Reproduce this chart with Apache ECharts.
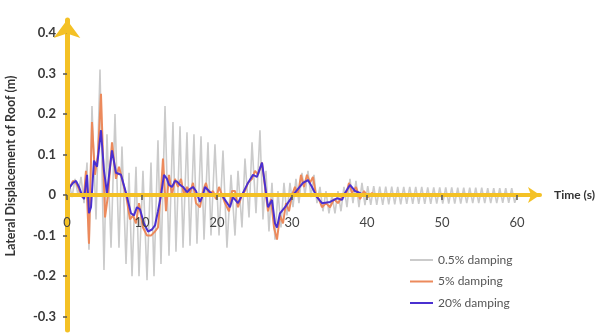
<!DOCTYPE html>
<html>
<head>
<meta charset="utf-8">
<script src="https://cdn.jsdelivr.net/npm/echarts@6/dist/echarts.min.js"></script>
<style>
  html, body { margin: 0; padding: 0; background: #fff; }
  #chart { width: 600px; height: 335px; }
</style>
</head>
<body>
<div id="chart"></div>
<script>
// tick labels
const TIME_TICKS = [0, 10, 20, 30, 40, 50, 60]
const DISP_TICKS = [-0.3, -0.2, -0.1, 0, 0.1, 0.2, 0.3, 0.4]
const SERIES_NAMES = ['0.5% damping', '5% damping', '20% damping']

// [time (s), roof displacement (m)] -- 0.5% damping, peaks and troughs
const damping05 = [
  [0, 0], [0.4, 0.02], [0.67, -0.005], [1.07, 0.04], [1.47, 0], [1.87, 0.045], [2.27, -0.02], [2.67, 0.08],
  [2.93, -0.135], [3.33, 0.22], [3.87, -0.06], [4.4, 0.31], [4.93, -0.185], [5.33, 0.15], [5.87, -0.13],
  [6.4, 0.2], [6.93, -0.13], [7.33, 0.12], [7.87, -0.17], [8.27, 0.055], [8.67, -0.2], [9.2, 0.07], [9.6, -0.2],
  [10.13, 0.06], [10.67, -0.21], [11.2, 0.08], [11.6, -0.2], [12.13, 0.135], [12.53, -0.17], [13.07, 0.22],
  [13.6, -0.15], [14.13, 0.18], [14.53, -0.14], [15.07, 0.17], [15.47, -0.13], [16.0, 0.155], [16.4, -0.125],
  [16.93, 0.15], [17.33, -0.12], [17.87, 0.145], [18.27, -0.11], [18.8, 0.13], [19.2, -0.1], [19.73, 0.125],
  [20.27, -0.1], [20.8, 0.11], [21.33, -0.13], [21.87, 0.05], [22.4, -0.1], [22.8, 0.06], [23.33, -0.08],
  [23.73, 0.09], [24.27, -0.055], [24.67, 0.13], [25.2, -0.045], [25.73, 0.16], [26.13, -0.06], [26.53, 0.06],
  [26.93, -0.09], [27.33, 0.03], [27.73, -0.11], [28.13, 0.01], [28.53, -0.08], [28.93, 0.03], [29.33, -0.05],
  [29.73, 0.03], [30.13, -0.03], [30.53, 0.04], [30.93, -0.02], [31.33, 0.055], [31.73, 0], [32.13, 0.06],
  [32.53, -0.005], [32.93, 0.05], [33.33, -0.02], [33.73, 0.02], [34.13, -0.04], [34.53, 0.01], [34.93, -0.045],
  [35.33, 0], [35.73, -0.045], [36.13, 0.01], [36.53, -0.04], [36.93, 0.02], [37.33, -0.03], [37.73, 0.04],
  [38.13, -0.02], [38.53, 0.035], [38.93, -0.03], [39.33, 0.03], [39.73, -0.025],
  [40.1, 0.022], [40.5, -0.024], [40.9, 0.022], [41.3, -0.024], [41.7, 0.021], [42.1, -0.024], [42.5, 0.021],
  [42.9, -0.023], [43.3, 0.021], [43.7, -0.023], [44.1, 0.02], [44.5, -0.023], [44.9, 0.02], [45.3, -0.022],
  [45.7, 0.02], [46.1, -0.022], [46.5, 0.02], [46.9, -0.022], [47.3, 0.02], [47.7, -0.022], [48.1, 0.019],
  [48.5, -0.022], [48.9, 0.019], [49.3, -0.021], [49.7, 0.019], [50.1, -0.021], [50.5, 0.019], [50.9, -0.021],
  [51.3, 0.019], [51.7, -0.021], [52.1, 0.018], [52.5, -0.021], [52.9, 0.018], [53.3, -0.02], [53.7, 0.018],
  [54.1, -0.02], [54.5, 0.018], [54.9, -0.02], [55.3, 0.018], [55.7, -0.02], [56.1, 0.017], [56.5, -0.02],
  [56.9, 0.017], [57.3, -0.02], [57.7, 0.017], [58.1, -0.019], [58.5, 0.017], [58.9, -0.019], [59.3, 0.017],
  [59.7, -0.019], [60.0, 0],
]

// 5% damping
const damping5 = [
  [0, 0], [0.4, 0.02], [0.8, 0.035], [1.2, 0.03], [1.6, 0.015], [2.0, -0.005], [2.27, 0], [2.53, 0.06],
  [2.93, -0.12], [3.33, 0.18], [3.73, 0.05], [4.13, 0.1], [4.53, 0.25], [5.07, -0.055], [5.47, 0], [6.0, 0.13],
  [6.53, 0.04], [6.93, 0.07], [7.33, 0.04], [7.87, 0], [8.4, -0.06], [8.8, -0.05], [9.2, -0.07], [9.6, -0.02],
  [10.13, -0.08], [10.67, -0.1], [11.2, -0.1], [11.73, -0.09], [12.13, -0.08], [12.53, 0.01], [12.8, 0.09],
  [13.2, -0.04], [13.6, 0.05], [14.0, 0], [14.4, 0.04], [14.8, 0.02], [15.2, 0.04], [15.6, 0], [16.0, 0.02],
  [16.4, 0.005], [16.8, 0.03], [17.2, -0.02], [17.73, -0.03], [18.13, 0.01], [18.53, 0.03], [18.93, 0],
  [19.47, 0.01], [19.87, -0.01], [20.27, 0.02], [20.67, 0], [21.07, -0.02], [21.6, -0.04], [22.0, 0.01],
  [22.4, 0.01], [22.8, -0.03], [23.33, 0], [23.73, 0.01], [24.13, 0.03], [24.67, 0.04], [25.07, 0.06],
  [25.47, 0.05], [26.0, 0.08], [26.4, 0.02], [26.8, -0.04], [27.2, -0.01], [27.6, -0.08], [28.0, -0.11],
  [28.4, -0.05], [28.8, -0.07], [29.2, -0.02], [29.6, -0.04], [30.0, 0], [30.4, 0.02], [30.8, 0], [31.2, 0.05],
  [31.6, 0.02], [32.0, 0.05], [32.4, 0.03], [32.8, 0.045], [33.2, 0], [33.6, -0.01], [34.0, -0.03],
  [34.53, -0.02], [35.07, -0.03], [35.6, -0.01], [36.13, -0.02], [36.67, -0.005], [37.2, 0], [37.6, 0.03],
  [38.0, 0.005], [38.53, 0.02], [39.07, -0.01], [39.6, 0.01], [40.13, -0.005], [40.67, 0.005], [41.2, 0],
]

// 20% damping
const damping20 = [
  [0, 0], [0.4, 0.02], [0.8, 0.03], [1.2, 0.035], [1.6, 0.02], [2.0, 0], [2.27, -0.01], [2.67, 0.05],
  [2.93, -0.045], [3.2, -0.03], [3.6, 0.085], [4.0, 0.07], [4.53, 0.16], [4.93, 0.06], [5.33, 0.005],
  [6.0, 0.11], [6.53, 0.055], [7.2, 0.05], [7.87, 0.005], [8.53, -0.045], [8.93, -0.05], [9.33, -0.03],
  [9.73, -0.035], [10.27, -0.07], [10.8, -0.09], [11.33, -0.085], [11.73, -0.075], [12.13, -0.04], [12.53, 0],
  [12.93, 0.05], [13.33, 0.04], [13.6, 0.025], [14.0, 0.02], [14.4, 0.035], [14.67, 0.033], [15.07, 0.025],
  [15.47, 0.02], [16.0, 0.007], [16.4, 0.015], [16.8, 0.02], [17.2, 0.01], [17.73, -0.017], [18.13, 0],
  [18.4, 0.02], [18.93, 0.01], [19.47, 0], [20.13, 0], [20.67, 0], [21.07, -0.012], [21.73, -0.03],
  [22.13, -0.005], [22.8, -0.02], [23.47, 0.005], [24.13, 0.03], [24.8, 0.05], [25.33, 0.045], [26.0, 0.08],
  [26.4, 0.025], [26.8, -0.03], [27.33, -0.012], [27.73, -0.07], [28.0, -0.08], [28.4, -0.045], [29.07, -0.03],
  [29.73, -0.012], [30.13, 0], [30.67, 0.012], [31.47, 0.03], [32.13, 0.037], [32.67, 0.02], [33.33, -0.005],
  [34.0, -0.02], [35.07, -0.017], [36.0, -0.008], [36.67, -0.012], [37.07, 0.005], [37.73, 0.025],
  [38.4, 0.01], [39.07, 0.005], [39.6, 0],
]

const AXIS_YELLOW = '#f4c125'
const FONT = 'Lato'
// plot area: y from 0.432 (top) to -0.333 (bottom); x-axis drawn at y = 0
const Y_MIN = -0.333
const Y_MAX = 0.432
const GRID_TOP = 20
const GRID_BOTTOM = 5
const PLOT_H = 335 - GRID_TOP - GRID_BOTTOM
const zeroFromBottom = PLOT_H * (0 - Y_MIN) / (Y_MAX - Y_MIN)

const chart = echarts.init(document.getElementById('chart'))

const line = (name, data, color, width) => ({
  name,
  type: 'line',
  data,
  symbol: 'none',
  smooth: false,
  silent: true,
  lineStyle: { color, width },
  itemStyle: { color },
})

chart.setOption({
  animation: false,
  backgroundColor: '#fff',
  textStyle: { fontFamily: FONT },
  grid: { left: 67, right: 60, top: GRID_TOP, bottom: GRID_BOTTOM, outerBoundsMode: 'none', containLabel: false },
  legend: {
    orient: 'vertical',
    left: 405,
    top: 249,
    icon: 'rect',
    itemWidth: 23,
    itemHeight: 2,
    itemGap: 9.5,
    data: SERIES_NAMES,
    textStyle: { color: '#555', fontSize: 12, fontFamily: FONT },
  },
  xAxis: {
    type: 'value',
    position: 'bottom',
    offset: -zeroFromBottom,
    min: 0,
    max: 63.07,
    z: 5,
    name: 'Time (s)',
    nameLocation: 'end',
    nameGap: 14,
    nameTextStyle: { color: '#333', fontSize: 12, fontWeight: 'bold', fontFamily: FONT },
    axisLine: {
      onZero: false,
      symbol: ['none', 'arrow'],
      symbolSize: [12, 12],
      lineStyle: { color: AXIS_YELLOW, width: 4 },
    },
    axisTick: { customValues: TIME_TICKS, length: 5, lineStyle: { color: '#555', width: 1.5 } },
    axisLabel: {
      customValues: TIME_TICKS,
      margin: 21,
      color: '#444',
      fontSize: 13,
      fontFamily: FONT,
    },
    splitLine: { show: false },
  },
  yAxis: {
    type: 'value',
    min: Y_MIN,
    max: Y_MAX,
    z: 5,
    axisLine: {
      onZero: false,
      symbol: ['none', 'arrow'],
      symbolSize: [20, 18],
      lineStyle: { color: AXIS_YELLOW, width: 5 },
    },
    axisTick: { customValues: DISP_TICKS, length: 4, lineStyle: { color: '#555', width: 1.5 } },
    axisLabel: {
      customValues: DISP_TICKS,
      margin: 11,
      color: '#3a3a3a',
      fontSize: 13,
      fontWeight: 'bold',
      fontFamily: FONT,
      formatter: v => (Math.abs(v) < 1e-9 ? '0' : v.toFixed(1)),
    },
    splitLine: { show: false },
  },
  graphic: [{
    type: 'text',
    x: 11,
    y: 166,
    rotation: Math.PI / 2,
    style: {
      text: 'Lateral Displacement of Roof (m)',
      textAlign: 'center',
      textVerticalAlign: 'middle',
      font: `bold 12.5px ${FONT}`,
      fill: '#333',
    },
  }],
  series: [
    line(SERIES_NAMES[0], damping05, '#cbcbcb', 1.6),
    line(SERIES_NAMES[1], damping5, '#ec8a5c', 2),
    line(SERIES_NAMES[2], damping20, '#4a30d0', 2),
  ],
})
</script>
</body>
</html>
